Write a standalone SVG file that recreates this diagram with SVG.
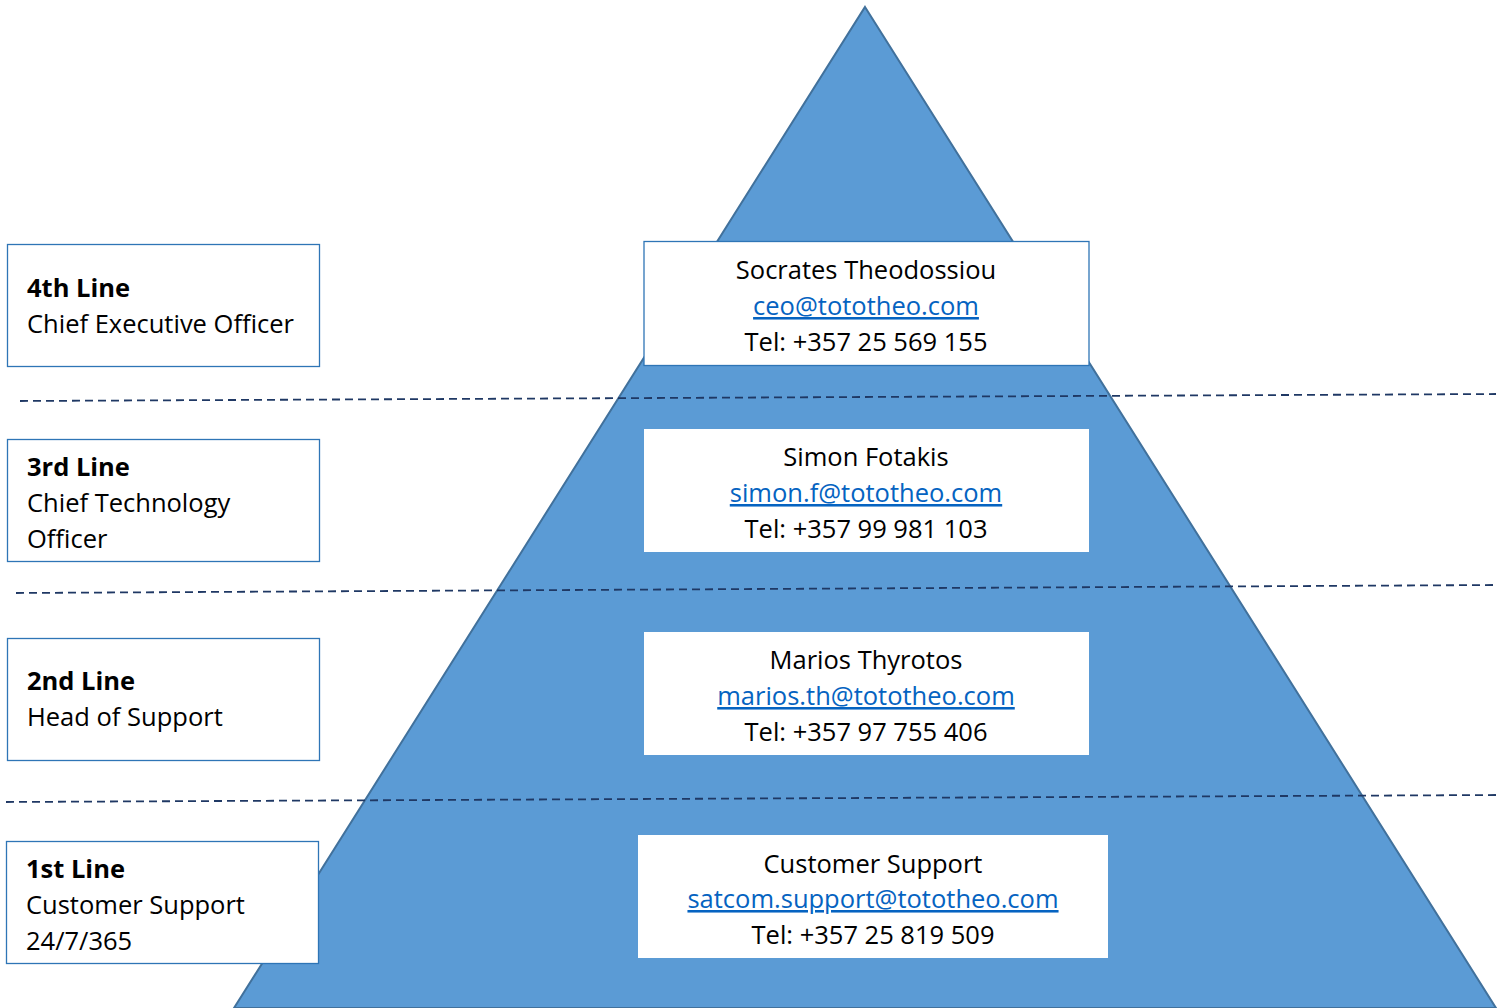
<svg xmlns="http://www.w3.org/2000/svg" width="1509" height="1008" viewBox="0 0 1509 1008">
<style>
text{font-family:"Open Sans","Liberation Sans",Arial,sans-serif;font-size:25.5px;fill:#000}
.b{font-weight:bold}
.c{text-anchor:middle}
.lnk{fill:#0563c1;text-decoration:underline}
.lbox{fill:#fff;stroke:#2e75b6;stroke-width:1.3}
.ibox{fill:#fff}
.dash{stroke:#1f3864;stroke-width:1.8;stroke-dasharray:8 5;fill:none}
</style>
<rect width="1509" height="1008" fill="#fff"/>
<g id="pyramid"><polygon points="865,7 1496,1008 234,1008" fill="#5b9bd5" stroke="#41719c" stroke-width="2"/></g>
<g id="connectors">
<line class="dash" x1="20" y1="401" x2="1496" y2="394"/>
<line class="dash" x1="16" y1="593" x2="1496" y2="585"/>
<line class="dash" x1="6" y1="802" x2="1496" y2="795"/>
</g>
<g id="ceo">
<rect class="ibox" x="644" y="241.5" width="445" height="124" stroke="#2e75b6" stroke-width="1.3"/>
<text class="c" x="866" y="279">Socrates Theodossiou</text>
<text class="c lnk" x="866" y="315">ceo@tototheo.com</text>
<text class="c" x="866" y="351">Tel: +357 25 569 155</text>
</g>
<g id="cto">
<rect class="ibox" x="644" y="429" width="445" height="123"/>
<text class="c" x="866" y="466">Simon Fotakis</text>
<text class="c lnk" x="866" y="502">simon.f@tototheo.com</text>
<text class="c" x="866" y="538">Tel: +357 99 981 103</text>
</g>
<g id="support-head">
<rect class="ibox" x="644" y="632" width="445" height="123"/>
<text class="c" x="866" y="669">Marios Thyrotos</text>
<text class="c lnk" x="866" y="705">marios.th@tototheo.com</text>
<text class="c" x="866" y="741">Tel: +357 97 755 406</text>
</g>
<g id="customer-support">
<rect class="ibox" x="638" y="835" width="470" height="123"/>
<text class="c" x="873" y="873">Customer Support</text>
<text class="c lnk" x="873" y="908">satcom.support@tototheo.com</text>
<text class="c" x="873" y="944">Tel: +357 25 819 509</text>
</g>
<g id="line4">
<rect class="lbox" x="7.5" y="244.5" width="312" height="122"/>
<text class="b" x="27" y="297">4th Line</text>
<text x="27" y="333">Chief Executive Officer</text>
</g>
<g id="line3">
<rect class="lbox" x="7.5" y="439.5" width="312" height="122"/>
<text class="b" x="27" y="476">3rd Line</text>
<text x="27" y="512">Chief Technology</text>
<text x="27" y="548">Officer</text>
</g>
<g id="line2">
<rect class="lbox" x="7.5" y="638.5" width="312" height="122"/>
<text class="b" x="27" y="690">2nd Line</text>
<text x="27" y="726">Head of Support</text>
</g>
<g id="line1">
<rect class="lbox" x="6.5" y="841.5" width="312" height="122"/>
<text class="b" x="26" y="878">1st Line</text>
<text x="26" y="914">Customer Support</text>
<text x="26" y="950">24/7/365</text>
</g>
</svg>
